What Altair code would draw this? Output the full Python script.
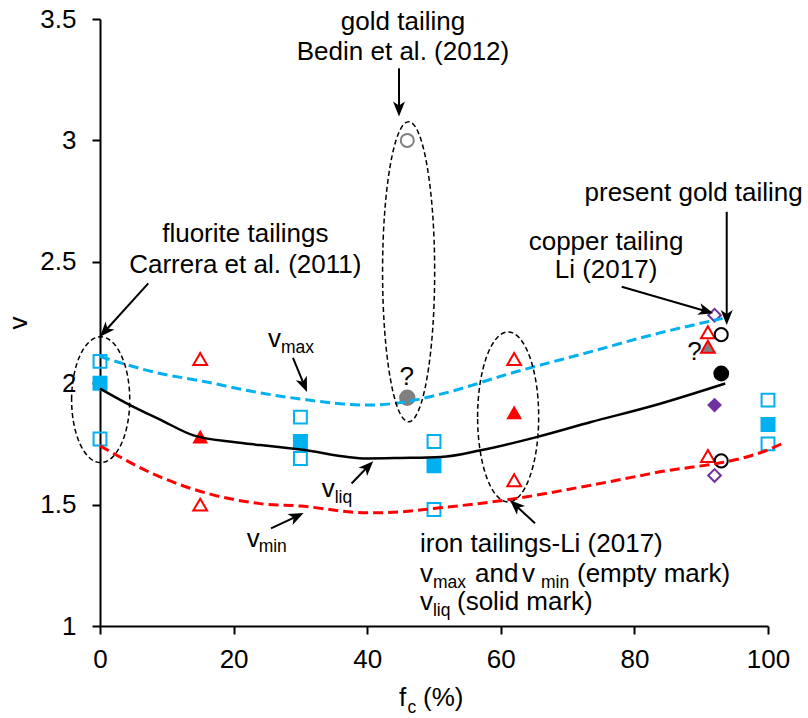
import math
import altair as alt
import pandas as pd

# ------------------------------------------------------------------ data
# fine-content tailings (blue squares)
sq_x = [0, 30, 50, 100]
sq_vmax = [2.09, 1.86, 1.76, 1.93]
sq_vliq = [2.00, 1.76, 1.66, 1.83]
sq_vmin = [1.77, 1.69, 1.48, 1.75]

# iron tailings - Li (2017) (red triangles)
tri_x = [15, 62, 91]
tri_vmax = [2.10, 2.10, 2.21]
tri_vmin = [1.50, 1.60, 1.70]
tri_liq_x = [15, 62]
tri_vliq = [1.78, 1.88]
tri_q_x = [91]          # uncertain value (grey fill)
tri_q_vliq = [2.15]

# copper tailing - Li (2017) (purple diamonds)
cu_x = [92]
cu_vmax = [2.28]
cu_vliq = [1.91]
cu_vmin = [1.62]

# present gold tailing (black circles)
pg_x = [93]
pg_vmax = [2.20]
pg_vliq = [2.04]
pg_vmin = [1.68]

# gold tailing - Bedin et al. (2012) (grey circles)
bg_x = [46]
bg_open = [3.00]
bg_vliq = [1.94]

# fitted curves
cmax_x = [0, 9, 15, 24, 30, 40, 45, 51, 62, 73.5, 82.5, 93.2]
cmax_y = [2.11, 2.04, 2.01, 1.96, 1.935, 1.91, 1.92, 1.955, 2.045, 2.13, 2.198, 2.267]
cliq_x = [0, 4.5, 9, 14, 20, 24, 30, 40, 45, 51, 57, 65.5, 73.5, 82.5, 93.6]
cliq_y = [1.978, 1.91, 1.85, 1.785, 1.758, 1.745, 1.727, 1.69, 1.692, 1.696, 1.724, 1.779, 1.84, 1.905, 1.999]
cmin_x = [0, 9, 16.5, 24, 30, 40, 45, 50, 61, 73.5, 82.5, 100.2, 102]
cmin_y = [1.742, 1.614, 1.543, 1.504, 1.494, 1.466, 1.47, 1.484, 1.52, 1.58, 1.628, 1.728, 1.75]

# dashed ellipses (centre and half axes, data units)
ell_x = [0.1, 46.2, 61.1]
ell_y = [1.932, 2.459, 1.861]
ell_rx = [4.35, 3.9, 4.57]
ell_ry = [0.259, 0.618, 0.35]

# arrows (tail -> tip, data units)
arr_x1 = [44.76, 7.23, 28.89, 37.66, 25.6, 65.12, 78.1, 93.82]
arr_y1 = [3.297, 2.411, 2.104, 1.587, 1.402, 1.423, 2.397, 2.706]
arr_x2 = [44.76, 0.0, 30.99, 40.9, 30.48, 61.38, 91.81, 93.82]
arr_y2 = [3.098, 2.1915, 1.964, 1.679, 1.465, 1.518, 2.288, 2.240]

# centred annotation texts
ann_text = ["gold tailing", "Bedin et al. (2012)", "fluorite tailings",
            "Carrera et al. (2011)", "copper tailing", "Li (2017)",
            "present gold tailing", "?", "?"]
ann_x = [45.36, 45.36, 21.75, 21.75, 75.75, 75.75, 88.87, 45.9, 88.98]
ann_y = [3.455, 3.331, 2.580, 2.455, 2.549, 2.432, 2.750, 1.993, 2.096]

# labels with subscripts: anchor points (data units)
lab_vmax = (25.15, 2.149)
lab_vliq = (33.19, 1.530)
lab_vmin = (21.95, 1.325)
iron_x = 47.9
iron_y = [1.306, 1.1825, 1.066]
xt_pos = (44.76, 0.6705)

# ------------------------------------------------------------------ style
FONT = "Liberation Sans"
BLUE = "#00B0F0"
RED = "#FF0000"
PURPLE = "#7030A0"
GRAY = "#808080"
W, H = 668, 607
XDOM = [0, 100]
YDOM = [1, 3.5]
PX_X = W / (XDOM[1] - XDOM[0])
PX_Y = H / (YDOM[1] - YDOM[0])
FS = 26
SUB = 17.5

xs = alt.Scale(domain=XDOM, nice=False, zero=False)
ys = alt.Scale(domain=YDOM, nice=False, zero=False)

xaxis = alt.Axis(values=[0, 20, 40, 60, 80, 100], title=None, grid=False,
                 domainColor="black", domainWidth=2, tickColor="black",
                 tickWidth=2, tickSize=8, labelFont=FONT, labelFontSize=FS,
                 labelColor="black", labelPadding=12, labelFlush=False,
                 labelOverlap=False)
yaxis = alt.Axis(values=[1, 1.5, 2, 2.5, 3, 3.5], format=".1~f", title="v",
                 titleFont=FONT, titleFontSize=FS, titleFontWeight="normal",
                 titleColor="black", titleX=-74, titleBaseline="alphabetic",
                 titleAngle=270, grid=False, domainColor="black",
                 domainWidth=2, tickColor="black", tickWidth=2, tickSize=8,
                 labelFont=FONT, labelFontSize=FS, labelColor="black",
                 labelPadding=16, labelFlush=False, labelOverlap=False)


def X(f="x"):
    return alt.X(f"{f}:Q", scale=xs, axis=xaxis)


def Y(f="y"):
    return alt.Y(f"{f}:Q", scale=ys, axis=yaxis)


def df(xv, yv):
    return pd.DataFrame({"x": list(xv), "y": list(yv)})


def pts(xv, yv, **kw):
    base = dict(opacity=1)
    base.update(kw)
    return alt.Chart(df(xv, yv)).mark_point(**base).encode(x=X(), y=Y())


layers = []

# markers
layers.append(pts(sq_x, sq_vmax, shape="square", filled=False, color=BLUE, strokeWidth=2, size=165))
layers.append(pts(sq_x, sq_vmin, shape="square", filled=False, color=BLUE, strokeWidth=2, size=165))
layers.append(pts(sq_x, sq_vliq, shape="square", filled=True, color=BLUE, size=225))
layers.append(pts(tri_x, tri_vmax, shape="triangle-up", filled=False, color=RED, strokeWidth=2, size=190))
layers.append(pts(tri_x, tri_vmin, shape="triangle-up", filled=False, color=RED, strokeWidth=2, size=190))
layers.append(pts(tri_liq_x, tri_vliq, shape="triangle-up", filled=True, color=RED, size=250))
layers.append(pts(tri_q_x, tri_q_vliq, shape="triangle-up", filled=True, fill=GRAY, stroke=RED, strokeWidth=2, size=190))
layers.append(pts(cu_x, cu_vmax, shape="diamond", filled=False, color=PURPLE, strokeWidth=2, size=160))
layers.append(pts(cu_x, cu_vmin, shape="diamond", filled=False, color=PURPLE, strokeWidth=2, size=160))
layers.append(pts(cu_x, cu_vliq, shape="diamond", filled=True, color=PURPLE, size=220))
layers.append(pts(pg_x, pg_vmax, shape="circle", filled=False, color="black", strokeWidth=2, size=170))
layers.append(pts(pg_x, pg_vmin, shape="circle", filled=False, color="black", strokeWidth=2, size=170))
layers.append(pts(pg_x, pg_vliq, shape="circle", filled=True, color="black", size=250))
layers.append(pts(bg_x, bg_open, shape="circle", filled=False, color=GRAY, strokeWidth=2, size=170))
layers.append(pts(bg_x, bg_vliq, shape="circle", filled=True, color=GRAY, size=270))

# curves
layers.append(alt.Chart(df(cmax_x, cmax_y)).mark_line(color=BLUE, strokeWidth=3, strokeDash=[10, 5], interpolate="monotone").encode(x=X(), y=Y()))
layers.append(alt.Chart(df(cmin_x, cmin_y)).mark_line(color=RED, strokeWidth=3, strokeDash=[10, 5], interpolate="monotone").encode(x=X(), y=Y()))
layers.append(alt.Chart(df(cliq_x, cliq_y)).mark_line(color="black", strokeWidth=2.5, interpolate="monotone").encode(x=X(), y=Y()))

# ellipses (symbol path in pixel units, size=4 -> scale 1)
K = 0.5523
for cx, cy, rxd, ryd in zip(ell_x, ell_y, ell_rx, ell_ry):
    rx = rxd * PX_X
    ry = ryd * PX_Y
    path = (f"M {-rx:.2f} 0 C {-rx:.2f} {-K*ry:.2f} {-K*rx:.2f} {-ry:.2f} 0 {-ry:.2f} "
            f"C {K*rx:.2f} {-ry:.2f} {rx:.2f} {-K*ry:.2f} {rx:.2f} 0 "
            f"C {rx:.2f} {K*ry:.2f} {K*rx:.2f} {ry:.2f} 0 {ry:.2f} "
            f"C {-K*rx:.2f} {ry:.2f} {-rx:.2f} {K*ry:.2f} {-rx:.2f} 0 Z")
    layers.append(pts([cx], [cy], shape=path, size=4, filled=False, color="black",
                      strokeWidth=1.5, strokeDash=[5, 3]))

# arrows
ARROW = "M 0 0 L -6 15 L 0 11 L 6 15 Z"
rows = []
for x1, y1, x2, y2 in zip(arr_x1, arr_y1, arr_x2, arr_y2):
    dxp = (x2 - x1) * PX_X
    dyp = -(y2 - y1) * PX_Y
    L = math.hypot(dxp, dyp)
    ux, uy = dxp / L, dyp / L
    ang = math.degrees(math.atan2(dxp, -dyp)) % 360
    rows.append({"x": x1, "y": y1, "x2": x2 - ux * 10 / PX_X, "y2": y2 + uy * 10 / PX_Y,
                 "tx": x2, "ty": y2, "ang": ang})
adf = pd.DataFrame(rows)
layers.append(alt.Chart(adf).mark_rule(color="black", strokeWidth=2).encode(
    x=X(), y=Y(), x2="x2:Q", y2="y2:Q"))
layers.append(alt.Chart(adf).mark_point(shape=ARROW, size=4, filled=True, color="black",
                                        opacity=1, strokeWidth=0).encode(
    x=X("tx"), y=Y("ty"), angle=alt.Angle("ang:Q", scale=None)))

# centred texts
tdf = pd.DataFrame({"x": ann_x, "y": ann_y, "t": ann_text})
layers.append(alt.Chart(tdf).mark_text(font=FONT, fontSize=FS, color="black",
                                       align="center", baseline="alphabetic").encode(
    x=X(), y=Y(), text="t:N"))


def piece(pos, text, dx=0, dy=0, size=FS):
    d = pd.DataFrame({"x": [pos[0]], "y": [pos[1]], "t": [text]})
    return alt.Chart(d).mark_text(font=FONT, fontSize=size, color="black", align="left",
                                  baseline="alphabetic", dx=dx, dy=dy).encode(
        x=X(), y=Y(), text="t:N")


# subscript labels
layers += [piece(lab_vmax, "v"), piece(lab_vmax, "max", dx=13, dy=6, size=SUB)]
layers += [piece(lab_vliq, "v"), piece(lab_vliq, "liq", dx=13, dy=6, size=SUB)]
layers += [piece(lab_vmin, "v"), piece(lab_vmin, "min", dx=12, dy=5, size=SUB)]

p1 = (iron_x, iron_y[0])
p2 = (iron_x, iron_y[1])
p3 = (iron_x, iron_y[2])
layers += [piece(p1, "iron tailings-Li (2017)")]
layers += [piece(p2, "v"), piece(p2, "max", dx=13, dy=6, size=SUB),
           piece(p2, "and", dx=55), piece(p2, "v", dx=102),
           piece(p2, "min", dx=121, dy=6, size=SUB), piece(p2, "(empty mark)", dx=157)]
layers += [piece(p3, "v"), piece(p3, "liq", dx=13, dy=6, size=SUB),
           piece(p3, "(solid mark)", dx=37)]

# x-axis title f_c (%)
layers += [piece(xt_pos, "f"), piece(xt_pos, "c", dx=8.5, dy=7, size=SUB),
           piece(xt_pos, "(%)", dx=24)]

chart = alt.layer(*layers).properties(
    width=W, height=H,
    autosize=alt.AutoSizeParams(type="none"),
    padding={"left": 100, "top": 19, "right": 40, "bottom": 92},
).configure_view(strokeWidth=0)

chart.save("out.html", embed_options={"renderer": "svg", "actions": False})
